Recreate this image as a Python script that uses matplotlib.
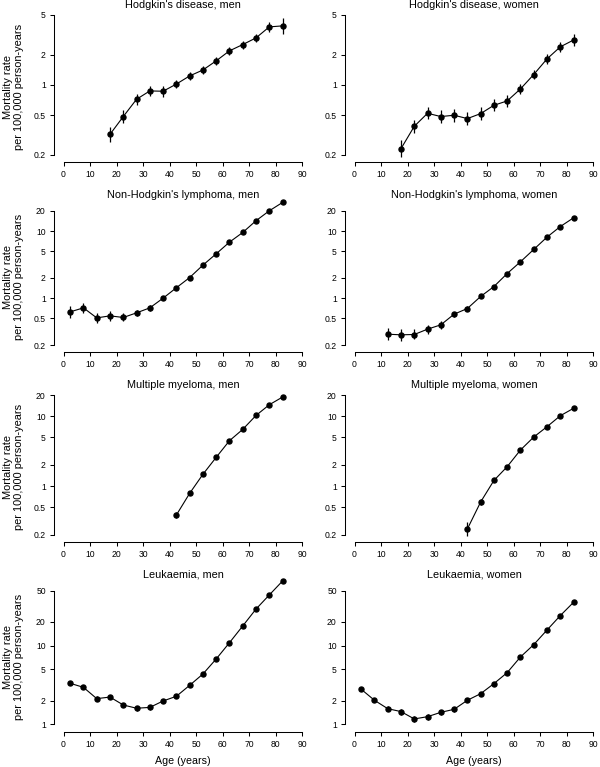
import matplotlib
matplotlib.use("Agg")
import matplotlib.pyplot as plt
from matplotlib.ticker import FixedLocator, NullLocator, FixedFormatter

plt.rcParams['font.family'] = ['Liberation Sans', 'DejaVu Sans']

ages = [2.5, 7.5, 12.5, 17.5, 22.5, 27.5, 32.5, 37.5, 42.5, 47.5, 52.5, 57.5, 62.5, 67.5, 72.5, 77.5, 82.5]

# Hodgkin's disease
hd_men_age = ages[3:]
hd_men = [0.321, 0.483, 0.719, 0.871, 0.865, 1.02, 1.23, 1.41, 1.74, 2.19, 2.53, 2.95, 3.80, 3.89]
hd_men_lo = [0.271, 0.414, 0.636, 0.770, 0.765, 0.931, 1.122, 1.286, 1.588, 1.998, 2.308, 2.670, 3.387, 3.212]
hd_men_hi = [0.380, 0.563, 0.813, 0.985, 0.978, 1.118, 1.348, 1.545, 1.907, 2.400, 2.773, 3.260, 4.264, 4.711]
hd_women_age = ages[3:]
hd_women = [0.231, 0.386, 0.521, 0.483, 0.498, 0.461, 0.517, 0.626, 0.692, 0.912, 1.27, 1.82, 2.40, 2.81]
hd_women_lo = [0.189, 0.331, 0.454, 0.414, 0.427, 0.395, 0.443, 0.545, 0.603, 0.813, 1.141, 1.635, 2.156, 2.467]
hd_women_hi = [0.282, 0.450, 0.598, 0.563, 0.581, 0.538, 0.603, 0.719, 0.794, 1.023, 1.414, 2.026, 2.671, 3.201]

# Non-Hodgkin's lymphoma
nhl_men_age = ages
nhl_men = [0.625, 0.717, 0.508, 0.545, 0.515, 0.604, 0.717, 1.0, 1.43, 2.03, 3.11, 4.59, 6.85, 9.55, 14.3, 20.1, 26.8]
nhl_men_lo = [0.509, 0.604, 0.433, 0.464, 0.449, 0.539, 0.647, 0.934, 1.35, 1.94, 3.01, 4.47, 6.70, 9.36, 14.0, 19.7, 26.2]
nhl_men_hi = [0.768, 0.852, 0.596, 0.640, 0.591, 0.677, 0.795, 1.071, 1.514, 2.13, 3.22, 4.71, 7.00, 9.74, 14.6, 20.5, 27.4]
nhl_women_age = ages[2:]
nhl_women = [0.290, 0.284, 0.287, 0.345, 0.400, 0.577, 0.701, 1.06, 1.49, 2.33, 3.49, 5.33, 8.14, 11.7, 15.8]
nhl_women_lo = [0.236, 0.231, 0.242, 0.297, 0.349, 0.526, 0.640, 1.00, 1.43, 2.25, 3.39, 5.20, 7.96, 11.45, 15.45]
nhl_women_hi = [0.356, 0.349, 0.341, 0.401, 0.459, 0.632, 0.768, 1.12, 1.55, 2.41, 3.59, 5.46, 8.32, 11.95, 16.15]

# Multiple myeloma
mm_men_age = ages[8:]
mm_men = [0.385, 0.785, 1.47, 2.57, 4.44, 6.45, 10.2, 14.5, 18.7]
mm_men_lo = [0.353, 0.743, 1.42, 2.50, 4.33, 6.30, 9.98, 14.2, 18.3]
mm_men_hi = [0.420, 0.829, 1.52, 2.64, 4.55, 6.60, 10.42, 14.8, 19.1]
mm_women_age = ages[8:]
mm_women = [0.243, 0.591, 1.20, 1.89, 3.27, 5.01, 7.04, 10.1, 12.9]
mm_women_lo = [0.195, 0.530, 1.15, 1.83, 3.19, 4.90, 6.89, 9.89, 12.63]
mm_women_hi = [0.303, 0.660, 1.25, 1.95, 3.35, 5.12, 7.19, 10.31, 13.17]

# Leukaemia
leu_men_age = ages
leu_men = [3.32, 2.95, 2.12, 2.22, 1.76, 1.60, 1.64, 1.98, 2.27, 3.13, 4.36, 6.77, 10.9, 17.8, 29.2, 44.1, 66.4]
leu_men_lo = [3.15, 2.79, 1.98, 2.08, 1.64, 1.48, 1.52, 1.86, 2.15, 3.00, 4.20, 6.56, 10.6, 17.4, 28.6, 43.2, 65.0]
leu_men_hi = [3.50, 3.12, 2.27, 2.37, 1.89, 1.73, 1.77, 2.11, 2.40, 3.27, 4.53, 6.99, 11.2, 18.2, 29.8, 45.0, 67.8]
leu_women_age = ages
leu_women = [2.79, 2.02, 1.58, 1.45, 1.17, 1.25, 1.42, 1.55, 2.02, 2.45, 3.29, 4.54, 7.18, 10.3, 15.8, 24.1, 35.6]
leu_women_lo = [2.64, 1.90, 1.46, 1.33, 1.07, 1.14, 1.31, 1.44, 1.91, 2.33, 3.16, 4.38, 6.96, 10.0, 15.4, 23.5, 34.8]
leu_women_hi = [2.95, 2.15, 1.71, 1.58, 1.28, 1.37, 1.54, 1.67, 2.14, 2.58, 3.43, 4.71, 7.41, 10.6, 16.2, 24.7, 36.4]

titles = [["Hodgkin's disease, men", "Hodgkin's disease, women"],
          ["Non-Hodgkin's lymphoma, men", "Non-Hodgkin's lymphoma, women"],
          ["Multiple myeloma, men", "Multiple myeloma, women"],
          ["Leukaemia, men", "Leukaemia, women"]]

series = [[(hd_men_age, hd_men, hd_men_lo, hd_men_hi), (hd_women_age, hd_women, hd_women_lo, hd_women_hi)],
          [(nhl_men_age, nhl_men, nhl_men_lo, nhl_men_hi), (nhl_women_age, nhl_women, nhl_women_lo, nhl_women_hi)],
          [(mm_men_age, mm_men, mm_men_lo, mm_men_hi), (mm_women_age, mm_women, mm_women_lo, mm_women_hi)],
          [(leu_men_age, leu_men, leu_men_lo, leu_men_hi), (leu_women_age, leu_women, leu_women_lo, leu_women_hi)]]

yticks = [[0.2, 0.5, 1, 2, 5],
          [0.2, 0.5, 1, 2, 5, 10, 20],
          [0.2, 0.5, 1, 2, 5, 10, 20],
          [1, 2, 5, 10, 20, 50]]
ylims = [(0.171, 5.39), (0.159, 27.5), (0.160, 22.3), (0.805, 65.1)]
xticks = [0, 10, 20, 30, 40, 50, 60, 70, 80, 90]

W, H = 600, 767
fig = plt.figure(figsize=(W / 100, H / 100), dpi=100)

col_left = [54, 345]
ax_w = 258
ax_h = 150
row_bottom = [161.7, 351.7, 541.7, 731.7]

for r in range(4):
    for c in range(2):
        ax = fig.add_axes([col_left[c] / W, (H - row_bottom[r]) / H, ax_w / W, ax_h / H])
        x, y, lo, hi = series[r][c]
        ax.vlines(x, lo, hi, color="black", lw=0.9, clip_on=False)
        ax.plot(x, y, color="black", lw=0.8, marker="o", ms=3.6, clip_on=False)
        ax.set_yscale("log")
        ax.set_xlim(-3.6, 93.6)
        ax.set_ylim(*ylims[r])
        ax.yaxis.set_major_locator(FixedLocator(yticks[r]))
        ax.yaxis.set_major_formatter(FixedFormatter([f"{t:g}" for t in yticks[r]]))
        ax.yaxis.set_minor_locator(NullLocator())
        ax.set_xticks(xticks)
        for s in ["top", "right"]:
            ax.spines[s].set_visible(False)
        ax.spines["left"].set_bounds(yticks[r][0], yticks[r][-1])
        ax.spines["bottom"].set_bounds(0, 90)
        for s in ["left", "bottom"]:
            ax.spines[s].set_linewidth(0.75)
        ax.tick_params(direction="out", length=2.9, width=0.75, labelsize=6.2, pad=3)
        ax.set_title(titles[r][c], fontsize=7.8, pad=3)
        if c == 0:
            fig.text(13.75 / W, 1 - (row_bottom[r] - ax_h / 2) / H,
                     "Mortality rate\nper 100,000 person-years",
                     rotation=90, ha="center", va="center", fontsize=7.9,
                     linespacing=1.1, multialignment="center")
        if r == 3:
            ax.set_xlabel("Age (years)", fontsize=7.7, labelpad=5)

fig.savefig("out.png", dpi=100)
